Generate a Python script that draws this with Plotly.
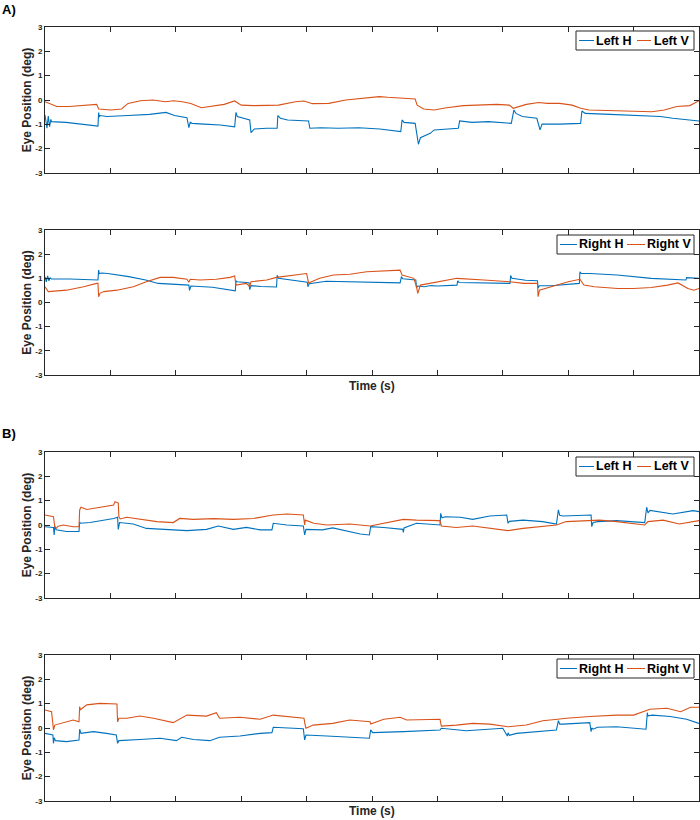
import plotly.graph_objects as go

# ---------------- data (time in s, eye position in deg) ----------------
# Panel A top: Left eye
a_lh_t = [0, 0.3, 0.5, 0.7, 0.9, 1.0, 3.2, 5.8, 7.9, 8.1, 8.2, 8.3, 8.4, 9.5, 12.7, 16.0, 18.5, 19.8, 21.7, 22.0, 22.2, 22.5, 24.3, 26.8,
          29.0, 29.2, 29.4, 30.4, 31.3, 31.5, 32.0, 33.9, 35.5, 35.6, 36.0, 37.1, 40.3, 40.5, 42.2, 44.8, 48.0, 51.2, 54.4, 54.6, 54.9,
          56.6, 57.1, 57.4, 57.9, 58.9, 59.5, 61.4, 63.2, 63.4, 65.3, 67.8, 71.3, 71.7, 72.0, 73.0, 75.2, 75.7, 76.0, 78.7, 81.9, 82.1,
          82.6, 86.4, 89.6, 92.8, 94.1, 96.0, 100]
a_lh_v = [-0.62, -1.16, -0.66, -1.1, -0.8, -0.89, -0.92, -1.0, -1.07, -1.07, -0.52, -0.7, -0.64, -0.68, -0.64, -0.59, -0.51, -0.64, -0.73, -1.14, -0.92, -0.96, -0.99, -1.03,
          -1.1, -0.51, -0.68, -0.75, -0.82, -1.34, -1.19, -1.16, -1.16, -0.64, -0.75, -0.82, -0.86, -1.16, -1.14, -1.16, -1.14, -1.19, -1.3, -0.82, -0.92,
          -0.96, -1.82, -1.55, -1.5, -1.37, -1.23, -1.19, -1.16, -0.86, -0.92, -0.89, -0.96, -0.41, -0.55, -0.68, -0.75, -1.23, -0.99, -0.99, -0.96, -0.45,
          -0.55, -0.59, -0.62, -0.64, -0.68, -0.75, -0.86]
a_lv_t = [0, 1.8, 3.7, 6.3, 7.9, 8.2, 10.1, 11.7, 12.7, 14.6, 16.5, 18.4, 19.7, 21.0, 22.3, 23.9, 25.5, 27.4, 29.0, 30.0, 31.9, 33.8, 35.7,
          38.3, 39.6, 40.9, 43.4, 46.0, 48.6, 51.1, 52.4, 54.3, 56.6, 56.9, 57.9, 59.5, 61.4, 64.0, 66.5, 69.1, 71.0, 71.6, 73.6, 75.5,
          76.8, 78.7, 80.6, 81.9, 83.2, 86.4, 89.6, 92.8, 94.7, 96.6, 98.6, 100]
a_lv_v = [-0.07, -0.27, -0.27, -0.21, -0.18, -0.37, -0.41, -0.37, -0.14, -0.03, 0.0, -0.07, -0.03, -0.07, -0.14, -0.32, -0.27, -0.18, -0.04, -0.21, -0.23, -0.21, -0.21,
          -0.07, -0.04, -0.15, -0.14, 0.0, 0.07, 0.14, 0.11, 0.07, 0.04, -0.21, -0.37, -0.41, -0.32, -0.23, -0.21, -0.18, -0.21, -0.34, -0.18, -0.1,
          -0.14, -0.14, -0.21, -0.34, -0.41, -0.44, -0.45, -0.48, -0.41, -0.27, -0.23, -0.03]

# Panel A bottom: Right eye
a_rh_t = [0, 0.2, 0.4, 0.6, 0.8, 1.0, 3.8, 6.4, 8.1, 8.2, 8.3, 8.7, 9.6, 12.8, 15.4, 17.3, 19.2, 22.0, 22.1, 22.3, 25.6, 28.2, 29.1,
          29.2, 29.4, 31.2, 31.3, 31.5, 33.0, 35.4, 35.5, 35.7, 38.0, 40.1, 40.2, 40.4, 43.0, 46.6, 50.0, 54.3, 54.5, 54.7, 56.7,
          56.8, 57.0, 58.0, 59.0, 60.0, 63.0, 63.1, 63.3, 67.1, 71.1, 71.2, 71.4, 73.5, 75.3, 75.4, 75.6, 77.4, 81.7, 81.8, 82.0,
          83.3, 87.5, 92.7, 97.8, 98.0, 98.1, 100]
a_rh_v = [1.07, 0.85, 1.1, 0.9, 1.02, 0.97, 0.97, 0.94, 0.93, 1.34, 1.2, 1.22, 1.2, 1.07, 0.93, 0.79, 0.75, 0.72, 0.5, 0.68, 0.63, 0.54, 0.48,
          0.89, 0.86, 0.82, 0.53, 0.7, 0.66, 0.64, 1.13, 1.0, 0.93, 0.84, 0.65, 0.78, 0.88, 0.86, 0.84, 0.81, 1.07, 0.98, 0.93,
          0.62, 0.68, 0.65, 0.7, 0.68, 0.72, 0.9, 0.83, 0.8, 0.79, 1.12, 1.0, 0.92, 0.9, 0.6, 0.69, 0.69, 0.79, 1.27, 1.2,
          1.2, 1.14, 1.0, 0.93, 0.93, 1.03, 1.0]
a_rv_t = [0, 0.5, 3.3, 5.9, 7.9, 8.1, 8.2, 8.4, 9.0, 11.0, 13.5, 15.5, 17.6, 19.6, 21.7, 22.0, 22.2, 23.7, 26.2, 28.3, 29.0, 29.2, 30.8,
          31.3, 31.5, 33.9, 35.4, 37.9, 40.0, 40.3, 42.0, 44.1, 46.6, 49.2, 51.8, 54.3, 54.6, 56.4, 56.8, 57.0, 57.4, 59.3, 63.0,
          67.1, 71.1, 73.2, 75.3, 75.4, 75.6, 77.4, 80.0, 81.8, 82.4, 84.0, 87.6, 90.0, 92.7, 95.2, 96.8, 98.3, 99.2, 100]
a_rv_v = [0.65, 0.45, 0.51, 0.65, 0.79, 0.79, 0.24, 0.38, 0.45, 0.51, 0.65, 0.86, 1.04, 1.04, 0.96, 0.84, 0.96, 0.93, 0.96, 1.04, 1.1, 0.72, 0.79,
          0.65, 0.86, 0.93, 1.04, 1.14, 1.2, 0.81, 1.0, 1.14, 1.17, 1.27, 1.31, 1.34, 1.14, 1.0, 0.65, 0.38, 0.72, 0.81, 1.0,
          0.93, 0.86, 0.79, 0.79, 0.24, 0.51, 0.65, 0.86, 0.96, 0.72, 0.65, 0.58, 0.58, 0.62, 0.72, 0.81, 0.58, 0.51, 0.58]

# Panel B top: Left eye
b_lh_t = [0, 1.3, 1.4, 1.5, 1.7, 3.3, 5.2, 5.3, 5.4, 6.9, 8.9, 10.5, 11.1, 11.2, 11.4, 13.5, 15.5, 18.6, 21.7, 24.7, 26.5, 28.8, 30.8,
          32.9, 34.7, 34.9, 37.0, 39.5, 39.7, 39.9, 42.4, 44.0, 46.6, 48.2, 49.6, 49.8, 51.8, 54.7, 54.8, 54.9, 56.8, 60.4,
          60.5, 60.7, 61.2, 63.5, 65.4, 68.0, 70.6, 70.8, 71.0, 73.1, 76.1, 78.2, 78.5, 78.7, 79.2, 82.2, 83.5, 83.6, 83.8,
          84.5, 87.4, 91.7, 92.0, 92.2, 92.5, 96.0, 99.1, 100]
b_lh_v = [-0.07, -0.1, -0.41, -0.05, -0.2, -0.27, -0.27, 0.12, 0.07, 0.1, 0.18, 0.27, 0.32, -0.18, 0.1, 0.04, -0.14, -0.2, -0.23, -0.18, -0.04, -0.18, -0.1,
          -0.2, -0.2, 0.07, 0.0, -0.04, -0.41, -0.18, -0.2, -0.12, -0.27, -0.37, -0.41, -0.07, -0.1, -0.18, -0.3, -0.12, 0.07, 0.0,
          0.48, 0.3, 0.34, 0.32, 0.23, 0.37, 0.41, 0.07, 0.15, 0.2, 0.14, 0.04, 0.62, 0.4, 0.37, 0.41, 0.41, -0.07, 0.1,
          0.14, 0.18, 0.1, 0.73, 0.5, 0.6, 0.45, 0.59, 0.55]
b_lv_t = [0, 1.3, 1.5, 1.7, 2.0, 2.8, 4.3, 5.2, 5.3, 5.5, 6.4, 8.4, 10.5, 10.7, 11.2, 11.3, 11.5, 12.5, 14.5, 17.1, 19.6, 20.6, 22.7, 25.8,
          28.8, 31.9, 34.9, 37.0, 39.5, 39.7, 39.8, 41.1, 43.1, 46.6, 49.7, 51.8, 54.8, 56.8, 60.4, 60.6, 62.9, 65.4, 68.0, 70.8,
          73.1, 75.6, 78.2, 79.7, 82.2, 84.8, 87.4, 89.9, 91.7, 92.2, 94.5, 97.0, 100]
b_lv_v = [0.41, 0.34, -0.07, -0.14, -0.05, 0.0, -0.07, -0.07, 0.62, 0.73, 0.64, 0.73, 0.82, 0.96, 0.9, 0.34, 0.25, 0.32, 0.23, 0.14, 0.1, 0.27, 0.23, 0.26,
          0.23, 0.27, 0.41, 0.45, 0.41, 0.0, 0.2, 0.07, 0.0, 0.04, -0.04, 0.07, 0.23, 0.2, 0.18, -0.04, -0.1, -0.04, -0.14, -0.23,
          -0.14, -0.07, 0.0, 0.14, 0.18, 0.2, 0.14, 0.07, 0.0, 0.14, 0.2, 0.04, 0.18]

# Panel B bottom: Right eye
b_rh_t = [0, 1.2, 1.3, 1.4, 1.6, 3.3, 5.2, 5.3, 5.5, 7.4, 9.4, 10.9, 11.1, 11.3, 14.5, 17.6, 20.1, 20.9, 22.7, 25.2, 26.7, 29.8, 32.9,
          34.7, 34.9, 37.5, 39.5, 39.7, 39.9, 43.1, 46.6, 49.6, 49.8, 50.1, 54.8, 60.4, 60.6, 64.4, 70.0, 70.7, 70.8, 71.0, 72.1,
          78.2, 78.5, 78.7, 79.2, 83.3, 83.5, 83.6, 83.8, 84.5, 87.4, 91.9, 92.1, 92.2, 92.9, 95.6, 98.1, 100]
b_rh_v = [-0.22, -0.29, -0.63, -0.4, -0.52, -0.56, -0.49, -0.05, -0.22, -0.15, -0.22, -0.29, -0.63, -0.52, -0.47, -0.42, -0.52, -0.38, -0.47, -0.52, -0.38, -0.33, -0.22,
          -0.19, 0.03, -0.01, -0.03, -0.49, -0.29, -0.33, -0.38, -0.42, -0.08, -0.19, -0.15, -0.08, -0.01, -0.11, -0.01, -0.33, -0.2, -0.3, -0.22,
          -0.08, 0.3, 0.16, 0.16, 0.22, -0.15, 0.0, -0.05, 0.03, 0.05, -0.05, 0.63, 0.5, 0.53, 0.47, 0.36, 0.19]
b_rv_t = [0, 1.0, 1.2, 1.3, 1.5, 3.3, 4.3, 5.2, 5.3, 5.4, 6.4, 8.4, 10.9, 11.0, 11.1, 11.3, 12.5, 14.5, 16.6, 19.6, 21.7, 24.7, 26.2,
          26.7, 29.8, 32.9, 34.9, 37.0, 39.6, 39.8, 39.9, 41.0, 44.0, 46.6, 49.7, 49.8, 51.8, 54.3, 55.3, 60.4, 60.6, 62.9, 65.4,
          68.0, 70.8, 73.6, 76.1, 78.4, 79.7, 83.3, 87.4, 90.0, 92.0, 92.5, 95.1, 97.2, 98.7, 100]
b_rv_v = [0.74, 0.67, 0.19, -0.08, 0.12, 0.26, 0.33, 0.26, 0.88, 0.75, 0.95, 1.01, 0.99, 0.99, 0.25, 0.4, 0.4, 0.49, 0.4, 0.22, 0.53, 0.49, 0.63,
          0.4, 0.44, 0.36, 0.53, 0.47, 0.4, 0.1, -0.01, 0.12, 0.19, 0.33, 0.26, 0.16, 0.36, 0.44, 0.33, 0.36, 0.08, 0.12, 0.19,
          0.16, 0.05, 0.12, 0.3, 0.36, 0.4, 0.47, 0.53, 0.53, 0.74, 0.77, 0.81, 0.67, 0.85, 0.85]

y_tickvals = [-3, -2, -1, 0, 1, 2, 3]
y_ticktext = ["-3", "-2", "-1", "0", "1", "2", "3"]
x_tickvals = [0, 10, 20, 30, 40, 50, 60, 70, 80, 90, 100]

panels = [
    ("Left H", a_lh_t, a_lh_v, "Left V", a_lv_t, a_lv_v),
    ("Right H", a_rh_t, a_rh_v, "Right V", a_rv_t, a_rv_v),
    ("Left H", b_lh_t, b_lh_v, "Left V", b_lv_t, b_lv_v),
    ("Right H", b_rh_t, b_rh_v, "Right V", b_rv_t, b_rv_v),
]

# ---------------- layout geometry (pixels) ----------------
W, H = 700, 820
px_tops = [27, 230, 452, 655]
px_bots = [173, 375, 598, 801]
leg_left = [576, 557, 576, 557]
leg_top = [31, 235, 457, 659]
leg_right = 694
leg_h = 19
# legend entries: (line start, line end, text start) for each of the two entries
leg_entries_left = [(579, 594, 595), (637, 651, 653)]
leg_entries_right = [(560, 577, 578), (627, 645, 646)]
BLUE = "#0072BD"
ORANGE = "#D95319"
FRAME = "#262626"
FONT = "Liberation Sans"


def px(x):
    return x / W


def py(y):
    return 1 - y / H


fig = go.Figure()
layout = dict(
    width=W, height=H, margin=dict(l=0, r=0, t=0, b=0, autoexpand=False),
    paper_bgcolor="white", plot_bgcolor="white", showlegend=False,
    font=dict(family=FONT, color=FRAME),
)
shapes = []
annotations = []
for i, (n1, t1, v1, n2, t2, v2) in enumerate(panels):
    k = "" if i == 0 else str(i + 1)
    fig.add_trace(go.Scatter(x=t1, y=v1, mode="lines", name=n1, line=dict(color=BLUE, width=1.1),
                             xaxis="x" + k, yaxis="y" + k))
    fig.add_trace(go.Scatter(x=t2, y=v2, mode="lines", name=n2, line=dict(color=ORANGE, width=1.1),
                             xaxis="x" + k, yaxis="y" + k))
    layout["xaxis" + k] = dict(
        domain=[px(45), px(699)], range=[0, 100], tickvals=x_tickvals, showticklabels=False,
        ticks="inside", ticklen=5, tickcolor=FRAME, showline=True, linecolor=FRAME, linewidth=1,
        mirror="ticks", showgrid=False, zeroline=False, anchor="y" + k,
    )
    layout["yaxis" + k] = dict(
        domain=[py(px_bots[i]), py(px_tops[i])], range=[-3, 3], tickvals=y_tickvals, ticktext=y_ticktext,
        ticks="inside", ticklen=5, tickcolor=FRAME, showline=True, linecolor=FRAME, linewidth=1,
        mirror="ticks", showgrid=False, zeroline=False, anchor="x" + k,
        tickfont=dict(size=8, family=FONT, color=FRAME, weight="bold"),
        title=dict(text="Eye Position (deg)", standoff=1,
                   font=dict(size=12, family=FONT, color=FRAME, weight="bold")),
    )
    # legend (box, line samples, labels)
    L, T = leg_left[i], leg_top[i]
    shapes.append(dict(type="rect", xref="paper", yref="paper", x0=px(L), x1=px(leg_right),
                       y0=py(T + leg_h), y1=py(T), line=dict(color=FRAME, width=1), fillcolor="white", layer="above"))
    ym = py(T + leg_h / 2)
    entries = leg_entries_right if i % 2 else leg_entries_left
    for (xs, xe, xt), col, name in zip(entries, (BLUE, ORANGE), (n1, n2)):
        shapes.append(dict(type="line", xref="paper", yref="paper", x0=px(xs), x1=px(xe),
                           y0=ym, y1=ym, line=dict(color=col, width=1), layer="above"))
        annotations.append(dict(text=name, x=px(xt), y=ym, xref="paper", yref="paper",
                                xanchor="left", yanchor="middle", showarrow=False, borderpad=0,
                                font=dict(size=12.5, family=FONT, color="black", weight="bold")))

annotations += [
    dict(text="A)", x=0, y=py(9), xref="paper", yref="paper", xanchor="left", yanchor="middle",
         showarrow=False, font=dict(size=13, family=FONT, color="black", weight="bold")),
    dict(text="B)", x=0, y=py(433), xref="paper", yref="paper", xanchor="left", yanchor="middle",
         showarrow=False, font=dict(size=13, family=FONT, color="black", weight="bold")),
    dict(text="Time (s)", x=px(372), y=py(386), xref="paper", yref="paper", xanchor="center", yanchor="middle",
         showarrow=False, font=dict(size=12, family=FONT, color=FRAME, weight="bold")),
    dict(text="Time (s)", x=px(372), y=py(811), xref="paper", yref="paper", xanchor="center", yanchor="middle",
         showarrow=False, font=dict(size=12, family=FONT, color=FRAME, weight="bold")),
]
layout["annotations"] = annotations
layout["shapes"] = shapes
fig.update_layout(**layout)
fig.write_html(
    "out.html",
    config={"displayModeBar": False},
    post_script="document.documentElement.style.overflow='hidden';document.body.style.margin='0';document.body.style.overflow='hidden';",
)
